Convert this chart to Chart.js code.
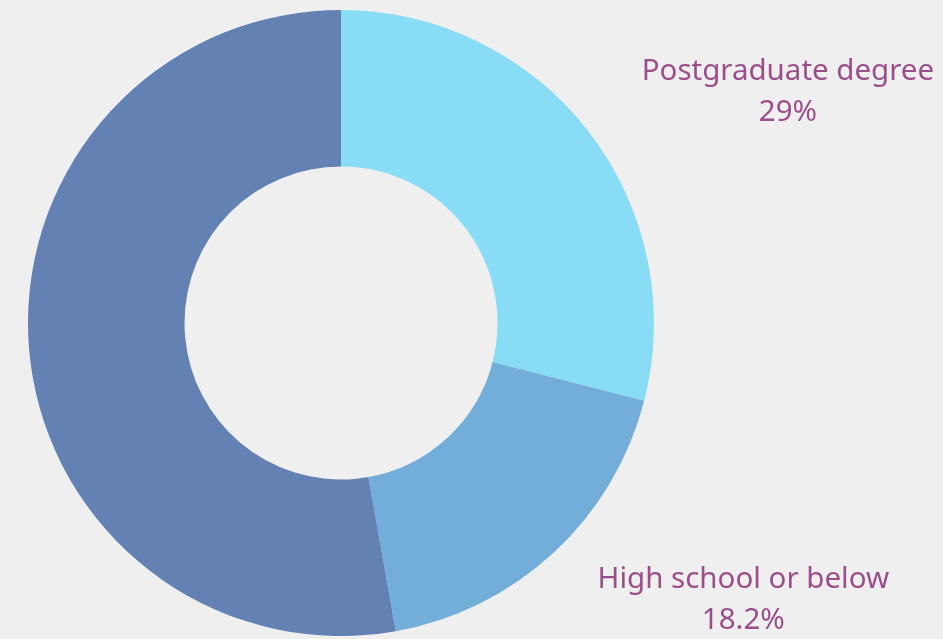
<!DOCTYPE html>
<html>
<head>
<meta charset="utf-8">
<script src="https://cdn.jsdelivr.net/npm/chart.js@4"></script>
<style>
    html, body { margin: 0; padding: 0; background: #efefef; }
    #wrap { width: 943px; height: 639px; }
</style>
</head>
<body>
<div id="wrap"><canvas id="edu"></canvas></div>
<script>
const categories = ['Postgraduate degree', 'High school or below', "Bachelor's degree"];
const shares = [29, 18.2, 52.8];
const shownLabels = ['Postgraduate degree', 'High school or below'];
const sliceColors = ['#89dcf5', '#72aed9', '#6381b3'];

// outside labels, placed from each arc's own geometry
const outsideLabels = {
    id: 'outsideLabels',
    afterDatasetsDraw(chart) {
        const ctx = chart.ctx;
        const arcs = chart.getDatasetMeta(0).data;
        ctx.save();
        ctx.fillStyle = '#9b4f8a';
        ctx.font = '29.5px "Noto Sans"';
        ctx.textAlign = 'center';
        ctx.textBaseline = 'middle';
        arcs.forEach((arc, i) => {
            if (!shownLabels.includes(categories[i])) return;
            const mid = (arc.startAngle + arc.endAngle) / 2;
            const ex = arc.x + Math.cos(mid) * arc.outerRadius;
            const ey = arc.y + Math.sin(mid) * arc.outerRadius;
            const x = ex + 195 - Math.sin(mid) * 7.5;
            const y = ey + Math.sin(mid) * 64 - 20;
            ctx.fillText(categories[i], x, y);
            ctx.fillText(shares[i] + '%', x, y + 41);
        });
        ctx.restore();
    }
};

new Chart(document.getElementById('edu'), {
    type: 'doughnut',
    data: {
        labels: categories,
        datasets: [{
            data: shares,
            backgroundColor: sliceColors,
            borderWidth: 0
        }]
    },
    options: {
        responsive: true,
        maintainAspectRatio: false,
        animation: false,
        cutout: '50%',
        layout: { padding: { left: 28, right: 289, top: 10, bottom: 3 } },
        plugins: {
            legend: { display: false },
            tooltip: { enabled: false }
        }
    },
    plugins: [outsideLabels]
});
</script>
</body>
</html>
